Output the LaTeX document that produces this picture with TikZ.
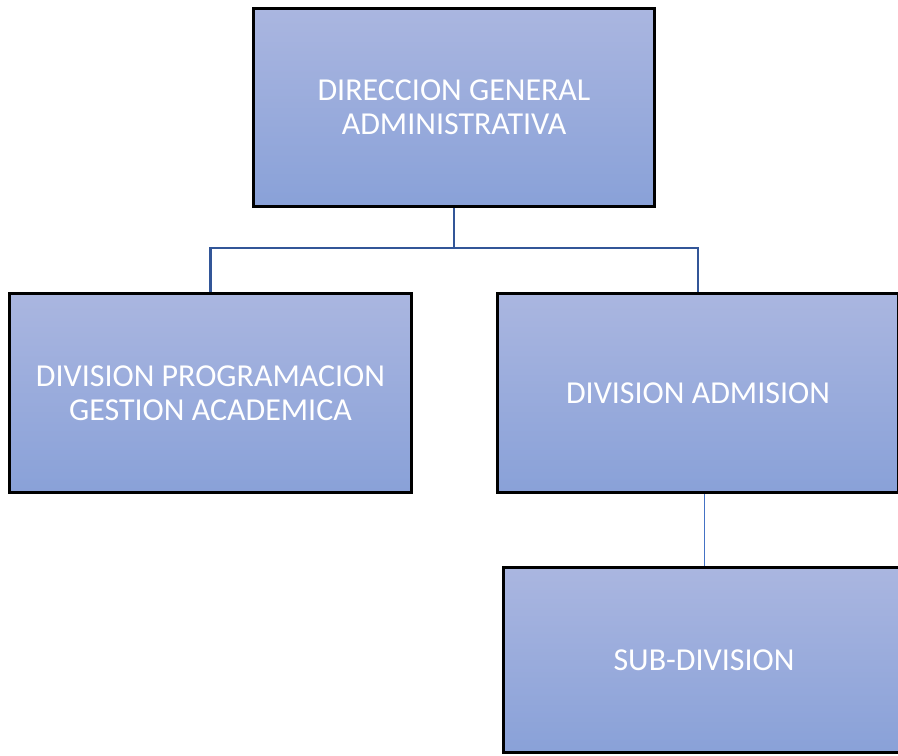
\documentclass[tikz,border=0pt]{standalone}
\usepackage{fontspec}
\setmainfont{Carlito}
\begin{document}
\begin{tikzpicture}[x=0.02cm,y=-0.02cm,
  orgbox/.style={shape=rectangle,draw=black,line width=1.7pt,top color=orgtop,bottom color=orgbottom,
    minimum width=8.04cm,minimum height=3.98cm,text=white,align=center,inner sep=0pt,
    font=\fontsize{18.2}{19.4}\selectfont},
  trunk/.style={draw=orgline,line width=1.5pt},
  twig/.style={draw=orglight,line width=0.55pt}]
\definecolor{orgtop}{RGB}{170,182,224}
\definecolor{orgbottom}{RGB}{137,161,216}
\definecolor{orgline}{RGB}{50,86,152}
\definecolor{orglight}{RGB}{68,114,196}
\path[use as bounding box] (0,0) rectangle (898,755);
\clip (0,0) rectangle (898,755);

\node[orgbox,minimum height=3.98cm] (dga) at (454,107.5) {DIRECCION GENERAL\\ADMINISTRATIVA};
\node[orgbox] (dpga) at (210.5,393) {DIVISION PROGRAMACION\\GESTION ACADEMICA};
\node[orgbox] (dadm) at (698,393) {DIVISION ADMISION};
\node[orgbox,minimum height=3.7cm] (sub) at (704,660) {SUB-DIVISION};

\coordinate (fork) at (454,248);
\draw[trunk] (dga.south) -- (fork);
\draw[trunk] (dpga.north) |- (fork) -| (dadm.north);
\draw[twig] (sub.north) -- (sub.north |- dadm.south);
\end{tikzpicture}
\end{document}
